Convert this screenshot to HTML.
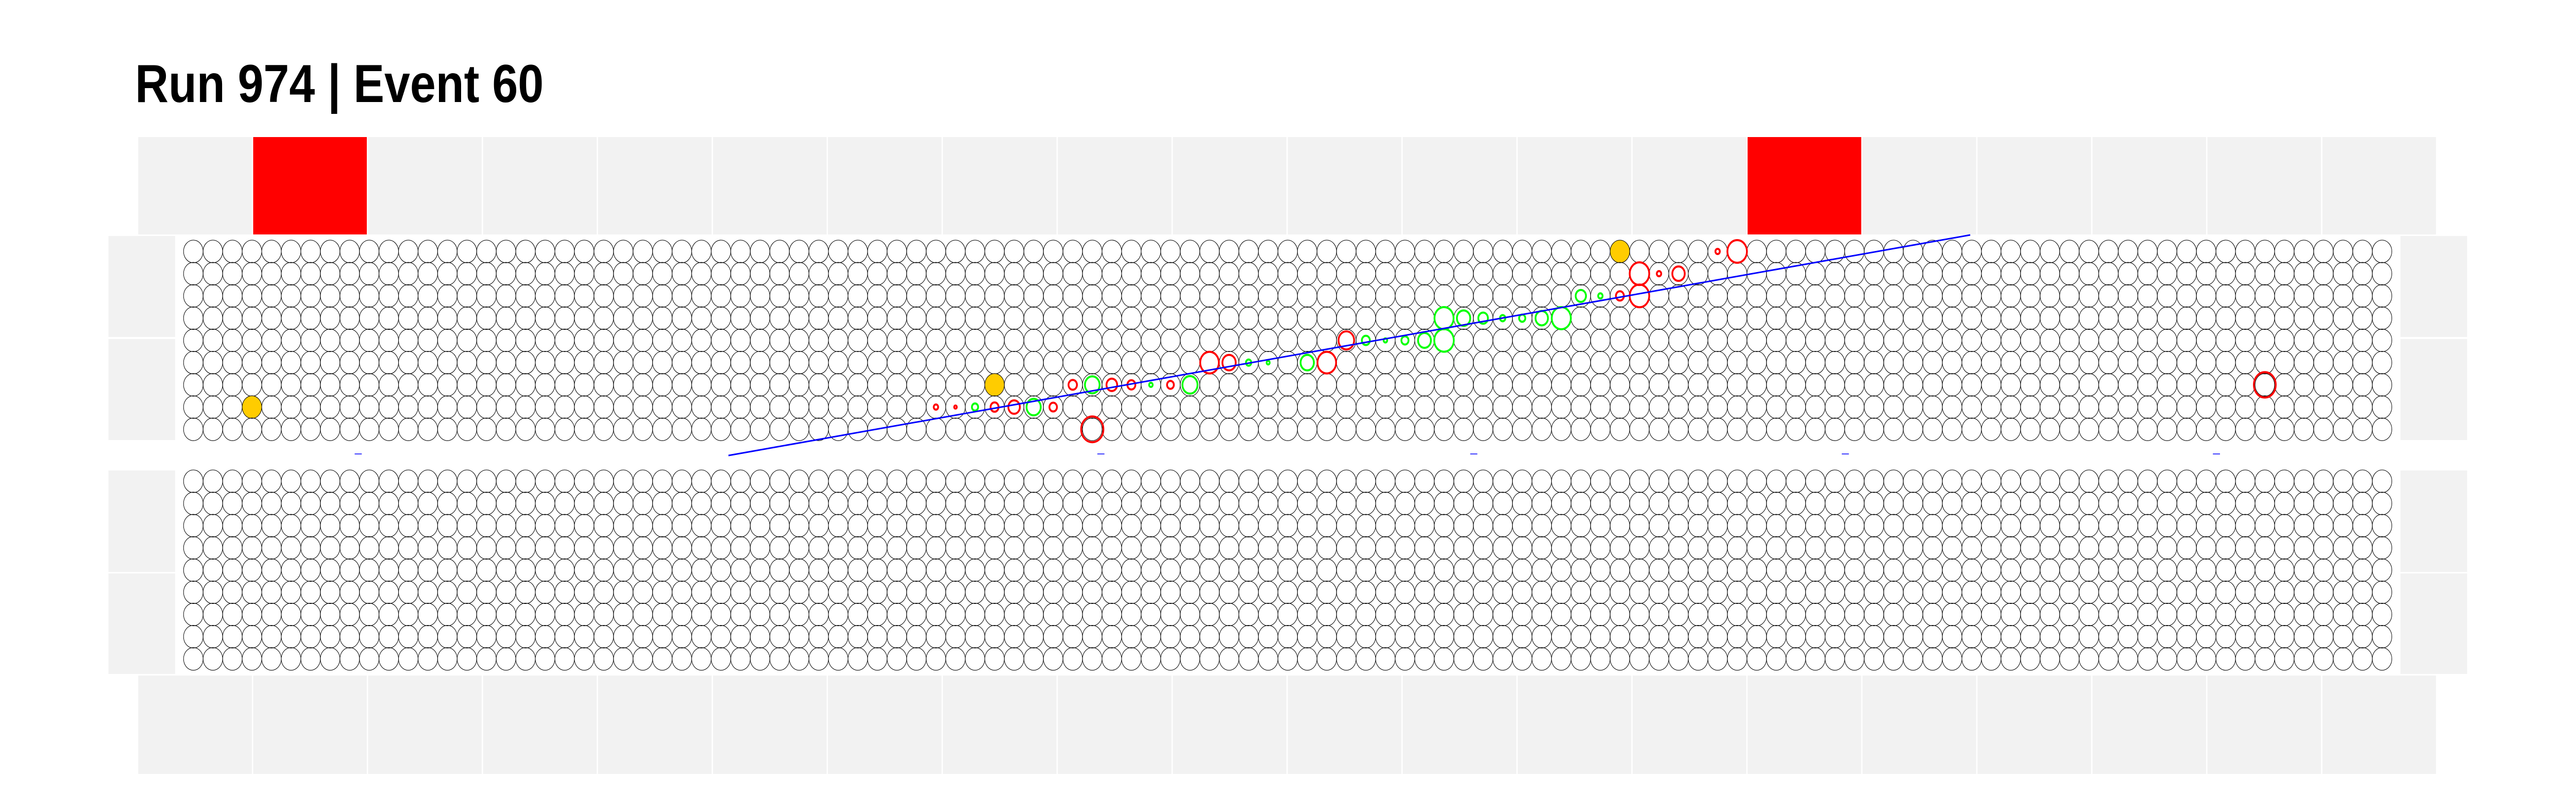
<!DOCTYPE html>
<html><head><meta charset="utf-8"><style>
html,body{margin:0;padding:0;background:#fff;width:100%;height:100%;overflow:hidden;}
svg{display:block;width:100vw;height:100vh;}
</style></head><body>
<svg id="chart" viewBox="0 0 5796 1572" preserveAspectRatio="none" xmlns="http://www.w3.org/2000/svg">
<text x="304" y="198" font-family="Liberation Sans, Arial, sans-serif" font-weight="bold" font-size="104">Run 974 | Event 60</text>
<g id="bands"></g><g id="grid"></g><g id="hits"></g><g id="track"></g>
</svg>
<script>
// data
const nCols = 113;
const nRows = 9;
const bandCells = 20;
const redBandCells = [1, 14];
const hitCols = [38,39,40,41,42,43,44, 46, 45,46,47,48,49,50,51, 52,53,54,55,57,58, 59,60,61,62,63,64, 64,65,66,67,68,69,70, 71,72,73,74, 74,75,76, 78,79, 106];
const hitRows = [7,7,7,7,7,7,7, 8, 6,6,6,6,6,6,6, 5,5,5,5,5,5, 4,4,4,4,4,4, 3,3,3,3,3,3,3, 2,2,2,2, 1,1,1, 0,0, 6];
const hitRadii = [5,3,7,9,13,16,8.5, 25, 9.5,16.5,12,9,4,7.7,17, 21,15,6,3.5,15,21, 17.6,9,4,8,14.5,22, 21.5,15,10.8,6,7,14,21.5, 11.6,5,9,22, 22,5,14, 5,22, 24.6];
const hitColors = ["r","r","g","r","r","g","r", "r", "r","g","r","r","g","r","g", "r","r","g","g","g","r", "r","g","g","g","g","g", "g","g","g","g","g","g","g", "g","g","r","r", "r","r","r", "r","r", "r"];
const flagCols = [3, 41, 73];
const flagRows = [7, 6, 0];
const trackStart = [1639, 884];
const trackEnd = [4433, 456];
const dashX = [806, 2477, 3316, 4152, 4987];

const NS = "http://www.w3.org/2000/svg";
const colX = c => 435 + 43.97 * c;
const topRowY = r => 488 + 43.15 * r;
const lowRowY = r => 934 + 43.1 * r;
function mk(tag, attrs, parent) {
  const e = document.createElementNS(NS, tag);
  for (const k in attrs) e.setAttribute(k, attrs[k]);
  parent.appendChild(e); return e;
}
const bands = document.getElementById('bands');
const pitch = (5484 - 311) / bandCells;
for (let i = 0; i < bandCells; i++) {
  const x = 311 + i * pitch;
  const t = mk('rect', {x: x, y: 266, width: pitch - 3, height: 189, fill: redBandCells.includes(i) ? '#ff0000' : '#f2f2f2'}, bands);
  
  
  const b = mk('rect', {x: x, y: 1311, width: pitch - 3, height: 191, fill: '#f2f2f2'}, bands);
  
  
}
[[458,196],[658,196],[913,197],[1113,195]].forEach(([y,h]) => {
  [244, 5401].forEach(x => {
    const s = mk('rect', {x: x, y: y, width: 150, height: h, fill: '#f2f2f2'}, bands);
    
    
  });
});
dashX.forEach(x => {
  const d = mk('line', {x1: x - 8, y1: 881, x2: x + 8, y2: 881, stroke: '#0000ff', 'stroke-width': 1.5}, bands);
  
  
});
const grid = document.getElementById('grid');
for (let c = 0; c < nCols; c++) {
  for (let r = 0; r < nRows; r++) {
    const fi = flagCols.findIndex((fc, k) => fc === c && flagRows[k] === r);
    const a = mk('circle', {cx: colX(c), cy: topRowY(r), r: 22, fill: fi >= 0 ? '#ffcc00' : 'none', stroke: '#000', 'stroke-width': 1.1}, grid);
    
    
    const b = mk('circle', {cx: colX(c), cy: lowRowY(r), r: 22, fill: 'none', stroke: '#000', 'stroke-width': 1.1}, grid);
    
    
  }
}
const hits = document.getElementById('hits');
hitCols.forEach((c, i) => {
  const h = mk('circle', {cx: colX(c), cy: topRowY(hitRows[i]), r: hitRadii[i], fill: 'none', stroke: hitColors[i] === 'r' ? '#ff0000' : '#00ff00', 'stroke-width': 4}, hits);
  
  
});
const tr = mk('line', {x1: trackStart[0], y1: trackStart[1], x2: trackEnd[0], y2: trackEnd[1], stroke: '#0000ff', 'stroke-width': 3}, document.getElementById('track'));


</script>
</body></html>
